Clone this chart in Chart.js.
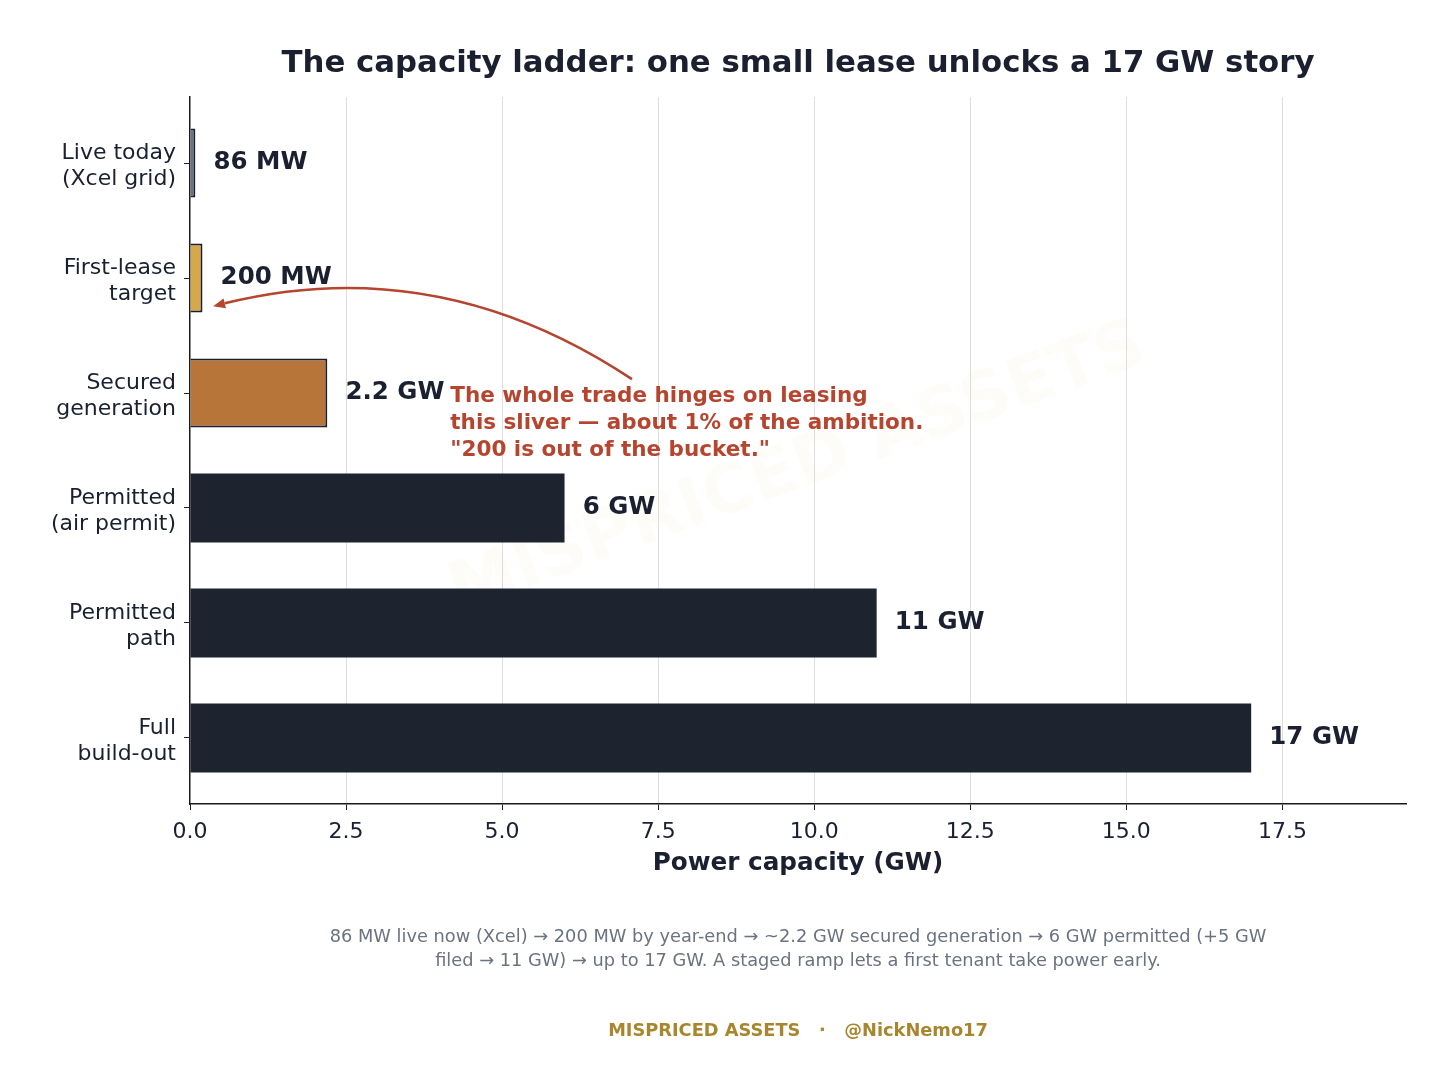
<!DOCTYPE html>
<html>
<head>
<meta charset="utf-8">
<style>
	body { margin: 0; background: #fff; }
	#wrap { width: 1456px; height: 1091px; }
</style>
<script src="https://cdn.jsdelivr.net/npm/chart.js@4.4.1/dist/chart.umd.min.js"></script>
</head>
<body>
<div id="wrap"><canvas id="ladder"></canvas></div>
<script>
	// data
	var stages = [['Live today', '(Xcel grid)'], ['First-lease', 'target'], ['Secured', 'generation'], ['Permitted', '(air permit)'], ['Permitted', 'path'], ['Full', 'build-out']];
	var capacityGW = [0.086, 0.2, 2.2, 6, 11, 17];
	var valueLabels = ['86 MW', '200 MW', '2.2 GW', '6 GW', '11 GW', '17 GW'];
	var barColors = ['#6b7280', '#d4a84b', '#b87539', '#1e2330', '#1e2330', '#1e2330'];
	var xTicks = [0, 2.5, 5, 7.5, 10, 12.5, 15, 17.5];

	var title = 'The capacity ladder: one small lease unlocks a 17 GW story';
	var note = ['The whole trade hinges on leasing', 'this sliver \u2014 about 1% of the ambition.', '"200 is out of the bucket."'];
	var caption = ['86 MW live now (Xcel) \u2192 200 MW by year-end \u2192 ~2.2 GW secured generation \u2192 6 GW permitted (+5 GW', 'filed \u2192 11 GW) \u2192 up to 17 GW. A staged ramp lets a first tenant take power early.'];
	var footer = 'MISPRICED ASSETS   \u00b7   @NickNemo17';

	var FONT = '"DejaVu Sans", sans-serif';
	var INK = '#1a2030';

	var extras = {
		id: 'extras',
		beforeDatasetsDraw: function(chart) {
			// faint watermark behind bars
			var ctx = chart.ctx, a = chart.chartArea;
			ctx.save();
			ctx.translate((a.left + a.right) / 2, 470);
			ctx.rotate(-20 * Math.PI / 180);
			ctx.font = 'bold 68px ' + FONT;
			ctx.fillStyle = 'rgba(201,160,74,0.035)';
			ctx.textAlign = 'center';
			ctx.textBaseline = 'middle';
			ctx.fillText('MISPRICED ASSETS', 0, 0);
			ctx.restore();
		},
		afterDraw: function(chart) {
			var ctx = chart.ctx, a = chart.chartArea;
			var xs = chart.scales.x, ys = chart.scales.y;
			var mid = (a.left + a.right) / 2;
			ctx.save();
			ctx.textBaseline = 'middle';

			// value labels
			ctx.font = 'bold 24.5px ' + FONT;
			ctx.fillStyle = INK;
			ctx.textAlign = 'left';
			capacityGW.forEach(function(v, i) {
				ctx.fillText(valueLabels[i], xs.getPixelForValue(v + 0.29), ys.getPixelForValue(i));
			});

			// curved arrow to the 200 MW bar
			var p0 = {x: xs.getPixelForValue(7.08), y: ys.getPixelForValue(1.88)};
			var p2 = {x: xs.getPixelForValue(0.37), y: ys.getPixelForValue(1.245)};
			var rad = -0.22;
			var cx = (p0.x + p2.x) / 2 + rad * (p2.y - p0.y);
			var cy = (p0.y + p2.y) / 2 - rad * (p2.x - p0.x);
			var ang = Math.atan2(p2.y - cy, p2.x - cx);
			var hl = 12, hw = 5;
			var bx = p2.x - hl * Math.cos(ang), by = p2.y - hl * Math.sin(ang);
			ctx.strokeStyle = '#b5452f';
			ctx.fillStyle = '#b5452f';
			ctx.lineWidth = 2.6;
			ctx.beginPath();
			ctx.moveTo(p0.x, p0.y);
			ctx.quadraticCurveTo(cx, cy, bx, by);
			ctx.stroke();
			ctx.beginPath();
			ctx.moveTo(p2.x, p2.y);
			ctx.lineTo(bx - hw * Math.sin(ang), by + hw * Math.cos(ang));
			ctx.lineTo(bx + hw * Math.sin(ang), by - hw * Math.cos(ang));
			ctx.closePath();
			ctx.fill();

			// annotation text
			ctx.font = 'bold 21.5px ' + FONT;
			var nx = xs.getPixelForValue(4.17);
			note.forEach(function(line, i) {
				ctx.fillText(line, nx, 396 + i * 27);
			});

			// title
			ctx.textAlign = 'center';
			ctx.font = 'bold 30.8px ' + FONT;
			ctx.fillStyle = INK;
			ctx.fillText(title, mid, 64);

			// caption
			ctx.font = '17.8px ' + FONT;
			ctx.fillStyle = '#6b7280';
			caption.forEach(function(line, i) {
				ctx.fillText(line, mid, 937 + i * 24);
			});

			// footer
			ctx.font = 'bold 17.8px ' + FONT;
			ctx.fillStyle = '#a8862e';
			ctx.fillText(footer, mid, 1031);
			ctx.restore();
		}
	};

	new Chart(document.getElementById('ladder'), {
		type: 'bar',
		data: {
			datasets: [{
				data: capacityGW.map(function(v, i) { return {x: v, y: i}; }),
				backgroundColor: barColors,
				borderColor: '#1a1f2b',
				borderWidth: [2, 2, 2, 0, 0, 0],
				categoryPercentage: 1,
				barPercentage: 0.6
			}]
		},
		options: {
			indexAxis: 'y',
			responsive: true,
			maintainAspectRatio: false,
			animation: false,
			layout: { padding: { left: 0, top: 97, right: 50, bottom: 207 } },
			plugins: { legend: { display: false }, tooltip: { enabled: false } },
			scales: {
				x: {
					type: 'linear',
					min: 0,
					max: 19.48,
					afterBuildTicks: function(s) { s.ticks = xTicks.map(function(v) { return {value: v}; }); },
					afterFit: function(s) { s.height = 80; },
					ticks: {
						color: INK,
						font: { family: FONT, size: 22 },
						padding: 9,
						callback: function(v) { return Number(v).toFixed(1); }
					},
					grid: {
						color: function(c) { return c.tick && c.tick.value === 0 ? 'rgba(0,0,0,0)' : '#dedede'; },
						tickColor: '#222',
						tickLength: 6,
						lineWidth: 1
					},
					border: { display: true, color: '#1a1a1a', width: 1.5 },
					title: {
						display: true,
						text: 'Power capacity (GW)',
						color: INK,
						font: { family: FONT, size: 24.7, weight: 'bold' },
						padding: { top: 0, bottom: 6 }
					}
				},
				y: {
					type: 'linear',
					reverse: true,
					offset: false,
					min: -0.574,
					max: 5.574,
					afterBuildTicks: function(s) { s.ticks = stages.map(function(l, i) { return {value: i}; }); },
					afterFit: function(s) { s.width = 190; },
					ticks: {
						color: INK,
						font: { family: FONT, size: 22, lineHeight: 1.2 },
						padding: 8,
						labelOffset: 3,
						callback: function(v) { return stages[v]; }
					},
					grid: {
						offset: false,
						drawOnChartArea: false,
						tickColor: '#222',
						tickLength: 6
					},
					border: { display: true, color: '#1a1a1a', width: 1.5 }
				}
			}
		},
		plugins: [extras]
	});
</script>
</body>
</html>
